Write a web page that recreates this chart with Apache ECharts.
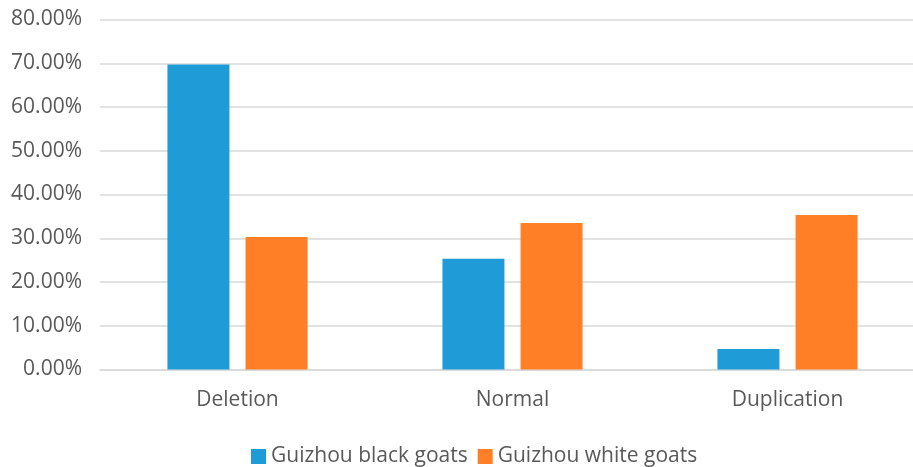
<!DOCTYPE html>
<html><head><meta charset="utf-8">
<script src="https://cdn.jsdelivr.net/npm/echarts@6/dist/echarts.min.js"></script>
<style>html,body{margin:0;padding:0;background:#fff}#c{width:913px;height:467px}</style>
</head><body><div id="c"></div>
<script>
var categories = ['Deletion', 'Normal', 'Duplication'];
var blackGoats = [69.7, 25.3, 4.7];
var whiteGoats = [30.3, 33.5, 35.3];
var seriesNames = ['Guizhou black goats', 'Guizhou white goats'];

var chart = echarts.init(document.getElementById('c'));
var font = 'Open Sans';
chart.setOption({
  animation: false,
  grid: {left: 100, width: 825, top: 19.5, height: 350, outerBoundsMode: 'none', containLabel: false},
  legend: {
    top: 441, left: 246, itemWidth: 15, itemHeight: 15, itemGap: 10,
    icon: 'rect',
    textStyle: {fontFamily: font, fontSize: 21, color: '#595959'},
    data: seriesNames
  },
  xAxis: {
    type: 'category', data: categories,
    axisLine: {lineStyle: {color: '#d9d9d9', width: 1.5}},
    axisTick: {show: false},
    axisLabel: {fontFamily: font, fontSize: 21, color: '#595959', margin: 20}
  },
  yAxis: {
    type: 'value', min: 0, max: 80, interval: 10,
    axisLine: {show: false}, axisTick: {show: false},
    splitLine: {lineStyle: {color: '#d9d9d9', width: 1.5}},
    axisLabel: {fontFamily: font, fontSize: 21, color: '#595959', margin: 18,
      formatter: function (v) { return v.toFixed(2) + '%'; }}
  },
  series: [
    {name: seriesNames[0], type: 'bar', data: blackGoats, barWidth: 62, barGap: '26%',
     itemStyle: {color: '#1f9bd7'}},
    {name: seriesNames[1], type: 'bar', data: whiteGoats, barWidth: 62,
     itemStyle: {color: '#ff7f27'}}
  ]
});
</script></body></html>
